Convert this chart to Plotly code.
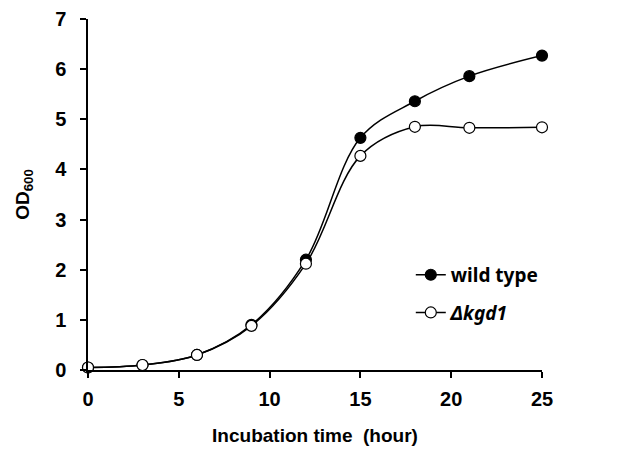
import plotly.graph_objects as go

time_h = [0, 3, 6, 9, 12, 15, 18, 21, 25]
wild_type = [0.05, 0.10, 0.30, 0.90, 2.20, 4.63, 5.36, 5.86, 6.27]
kgd1 = [0.05, 0.10, 0.30, 0.88, 2.12, 4.27, 4.85, 4.83, 4.84]
x_ticks = [0, 5, 10, 15, 20, 25]
y_ticks = [0, 1, 2, 3, 4, 5, 6, 7]

fig = go.Figure()
fig.add_trace(go.Scatter(
    x=time_h, y=wild_type, name="<b>wild type</b>", mode="lines+markers",
    line=dict(color="black", width=1.5, shape="spline", smoothing=1),
    marker=dict(color="black", size=11, line=dict(color="black", width=1.2)),
    cliponaxis=False, legendgroup="a"))
fig.add_trace(go.Scatter(
    x=time_h, y=kgd1, name="<b><i>Δkgd1</i></b>", mode="lines+markers",
    line=dict(color="black", width=1.5, shape="spline", smoothing=1),
    marker=dict(color="white", size=11, line=dict(color="black", width=1.2)),
    cliponaxis=False, legendgroup="b"))

FAM = "Arial, Liberation Sans, sans-serif"
tick_font = dict(family=FAM, size=20, color="black", weight="bold")
title_font = dict(family=FAM, size=19, color="black", weight="bold")
fig.update_layout(
    width=613, height=444,
    margin=dict(l=80, r=79, t=11, b=82),
    plot_bgcolor="white", paper_bgcolor="white",
    font=dict(family=FAM, color="black"),
    xaxis=dict(range=[0, 25], tickvals=x_ticks, showgrid=False, zeroline=False,
               showline=True, linecolor="black", linewidth=1.5, automargin=False,
               ticks="outside", ticklen=6, tickcolor="black", tickwidth=1.5,
               tickfont=tick_font, ticklabelstandoff=4,
               title=dict(text="Incubation time  (hour)", font=title_font, standoff=20)),
    yaxis=dict(range=[0, 7], tickvals=y_ticks, showgrid=False, zeroline=False,
               showline=True, linecolor="black", linewidth=1.5, automargin=False,
               ticks="outside", ticklen=6, tickcolor="black", tickwidth=1.5,
               tickfont=tick_font, ticklabelstandoff=10,
               title=dict(text="OD<sub>600</sub>", font=title_font, standoff=20)),
    legend=dict(x=0.711, y=0.325, xanchor="left", yanchor="top",
                bgcolor="rgba(0,0,0,0)", tracegroupgap=10,
                font=dict(family="Noto Sans, sans-serif", size=19, color="black"),
                itemwidth=30),
)

fig.write_html("out.html")
